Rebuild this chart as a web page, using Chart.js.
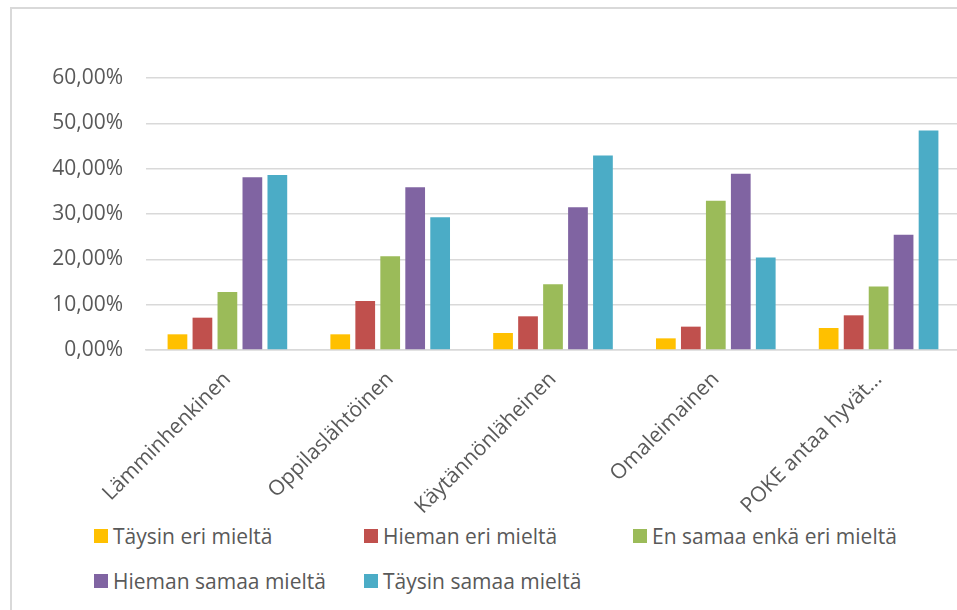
<!DOCTYPE html>
<html>
<head>
<meta charset="utf-8">
<script src="https://cdn.jsdelivr.net/npm/chart.js@4"></script>
<style>
  html, body { margin: 0; padding: 0; background: #fff; overflow: hidden; width: 957px; height: 610px; }
  .frame { position: absolute; left: 10px; top: 7px; width: 980px; height: 640px; border: 2px solid #D9D9D9; box-sizing: border-box; }
  .chart-box { position: absolute; left: 0; top: 0; width: 975px; height: 520px; }
  #legend { position: absolute; left: 0; top: 0; font-family: "Open Sans", sans-serif; font-size: 21px; color: #595959; }
  .item { position: absolute; display: flex; align-items: center; white-space: nowrap; line-height: 1; }
  .item span.box { width: 14px; height: 14px; margin-right: 5px; display: inline-block; }
</style>
</head>
<body>
<div class="frame"></div>
<div class="chart-box"><canvas id="bar-chart"></canvas></div>
<div id="legend"></div>
<script>
const categories = ['Lämminhenkinen', 'Oppilaslähtöinen', 'Käytännönläheinen', 'Omaleimainen', 'POKE antaa hyvät…'];
const seriesNames = ['Täysin eri mieltä', 'Hieman eri mieltä', 'En samaa enkä eri mieltä', 'Hieman samaa mieltä', 'Täysin samaa mieltä'];
const taysinEri = [3.46, 3.46, 3.75, 2.57, 4.85];
const hiemanEri = [7.13, 10.8, 7.43, 5.15, 7.65];
const enSamaa = [12.8, 20.7, 14.5, 32.9, 14.0];
const hiemanSamaa = [38.1, 35.9, 31.5, 38.9, 25.4];
const taysinSamaa = [38.6, 29.3, 42.9, 20.4, 48.4];
const colors = ['#FFC000', '#C0504D', '#9BBB59', '#8064A2', '#4BACC6'];

const textColor = '#595959';
const gridColor = '#D9D9D9';
Chart.defaults.font.family = '"Open Sans", sans-serif';
Chart.defaults.font.size = 21;
Chart.defaults.color = textColor;

const values = [taysinEri, hiemanEri, enSamaa, hiemanSamaa, taysinSamaa];

const ctxBar = document.getElementById('bar-chart').getContext('2d');
const barChart = new Chart(ctxBar, {
    type: 'bar',
    data: {
        labels: categories,
        datasets: values.map((v, i) => ({
            label: seriesNames[i],
            data: v,
            backgroundColor: colors[i],
            categoryPercentage: 0.767,
            barPercentage: 0.79,
        }))
    },
    options: {
        responsive: true,
        maintainAspectRatio: false,
        animation: false,
        layout: { padding: { top: 78, right: 15, left: 0, bottom: 0 } },
        plugins: {
            legend: { display: false },
            tooltip: { enabled: false }
        },
        scales: {
            x: {
                grid: { display: false, drawTicks: false },
                border: { color: gridColor, width: 1.5 },
                ticks: { minRotation: 45, maxRotation: 45, padding: 17, color: textColor },
                afterFit: (scale) => { scale.height = 170; }
            },
            y: {
                min: 0,
                max: 60,
                grid: { color: gridColor, lineWidth: 1.5, drawTicks: false },
                border: { display: false },
                ticks: {
                    stepSize: 10,
                    padding: 23,
                    color: textColor,
                    callback: (v) => v.toFixed(2).replace('.', ',') + '%'
                },
                afterFit: (scale) => { scale.width = 146; }
            }
        }
    }
});

// legend laid out like the original: three columns, two rows
const legendEl = document.getElementById('legend');
const colX = [94, 364, 633];
const rowY = [536, 581];
barChart.data.datasets.forEach((ds, i) => {
    const item = document.createElement('div');
    item.className = 'item';
    item.style.left = colX[i % 3] + 'px';
    item.style.top = (rowY[Math.floor(i / 3)] - 12) + 'px';
    item.style.height = '24px';
    const box = document.createElement('span');
    box.className = 'box';
    box.style.background = ds.backgroundColor;
    const txt = document.createElement('span');
    txt.textContent = ds.label;
    item.appendChild(box);
    item.appendChild(txt);
    legendEl.appendChild(item);
});
</script>
</body>
</html>
